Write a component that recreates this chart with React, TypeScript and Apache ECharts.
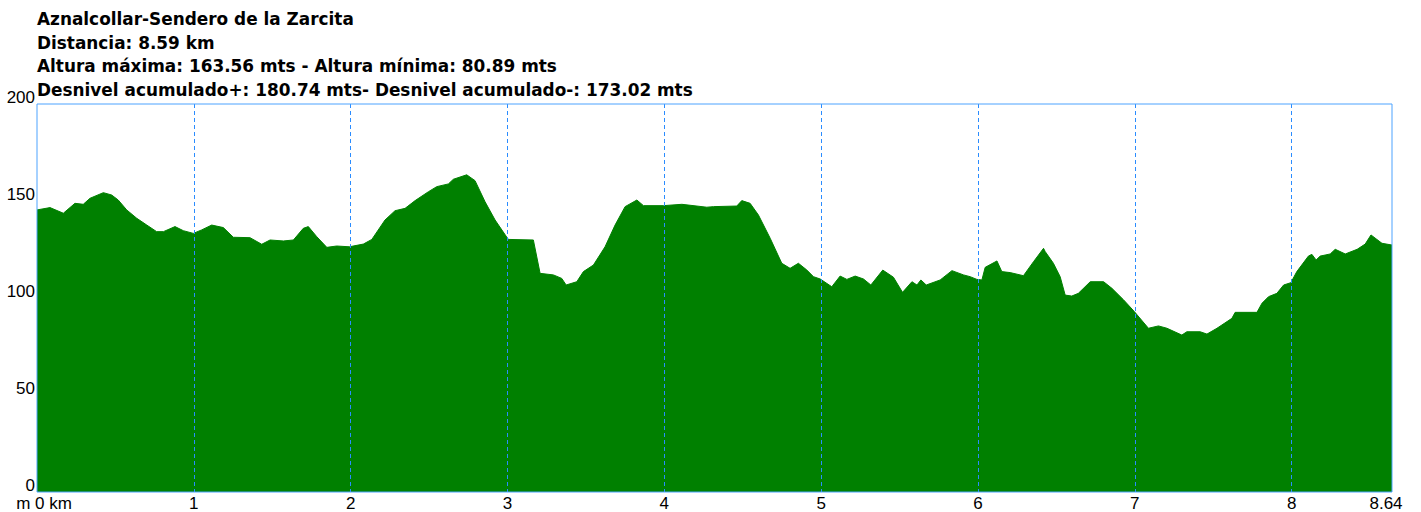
import React, { useEffect, useRef } from "react";
import * as echarts from "echarts";

const titleLines = [
  "Aznalcollar-Sendero de la Zarcita",
  "Distancia: 8.59 km",
  "Altura máxima: 163.56 mts - Altura mínima: 80.89 mts",
  "Desnivel acumulado+: 180.74 mts- Desnivel acumulado-: 173.02 mts",
];

const distKm = [
  0, 0.083, 0.168, 0.242, 0.295, 0.338, 0.423, 0.476, 0.518, 0.572,
  0.636, 0.7, 0.763, 0.806, 0.88, 0.933, 0.997, 1.05, 1.114, 1.188,
  1.252, 1.358, 1.433, 1.486, 1.571, 1.635, 1.698, 1.73, 1.784, 1.848,
  1.911, 1.992, 2.081, 2.135, 2.219, 2.283, 2.347, 2.411, 2.496, 2.549,
  2.623, 2.655, 2.74, 2.793, 2.857, 2.921, 2.996, 3.006, 3.165, 3.208,
  3.293, 3.346, 3.374, 3.442, 3.484, 3.548, 3.622, 3.686, 3.75, 3.825,
  3.867, 3.994, 4.112, 4.271, 4.313, 4.462, 4.494, 4.547, 4.6, 4.675,
  4.749, 4.802, 4.855, 4.909, 4.951, 4.994, 5.068, 5.121, 5.164, 5.217,
  5.27, 5.317, 5.393, 5.461, 5.519, 5.579, 5.611, 5.636, 5.67, 5.759,
  5.834, 5.908, 5.95, 5.993, 6.025, 6.046, 6.121, 6.152, 6.205, 6.29,
  6.354, 6.418, 6.429, 6.481, 6.524, 6.556, 6.598, 6.64, 6.716, 6.801,
  6.854, 6.929, 6.998, 7.087, 7.151, 7.205, 7.3, 7.332, 7.417, 7.46,
  7.524, 7.619, 7.64, 7.779, 7.811, 7.853, 7.906, 7.949, 7.995, 8.033,
  8.107, 8.129, 8.156, 8.182, 8.246, 8.278, 8.342, 8.418, 8.469, 8.506,
  8.576, 8.64,
];

const altM = [
  145.4, 146.6, 143.7, 148.8, 148.3, 151.4, 154.3, 153.1, 150.5, 145.4,
  141.1, 137.6, 134.2, 134.2, 136.8, 134.7, 133.3, 135.1, 137.6, 136.3,
  131.3, 131.1, 127.7, 129.9, 129.4, 129.9, 135.9, 136.8, 131.6, 126.1,
  126.8, 126.4, 127.8, 130.2, 140.2, 145.0, 146.2, 150.2, 154.8, 157.4,
  158.8, 161.2, 163.5, 160.5, 149.6, 140.2, 131.3, 130.2, 129.9, 112.7,
  111.9, 110.1, 106.7, 108.4, 113.6, 117.0, 126.4, 137.6, 147.1, 150.5,
  147.6, 147.6, 148.3, 146.8, 147.1, 147.4, 150.2, 148.8, 142.8, 130.8,
  117.9, 115.3, 117.9, 114.4, 111.0, 109.8, 105.8, 111.3, 109.6, 111.3,
  109.8, 106.7, 114.4, 110.7, 102.9, 108.4, 106.7, 109.3, 106.7, 109.3,
  114.1, 111.9, 111.0, 109.6, 109.3, 115.8, 119.1, 113.6, 113.1, 111.5,
  118.7, 125.6, 123.9, 117.9, 111.0, 101.5, 101.0, 102.4, 108.4, 108.4,
  105.0, 99.0, 92.9, 84.4, 85.6, 84.4, 80.9, 82.6, 82.6, 81.4,
  84.4, 89.5, 92.6, 92.6, 97.3, 100.7, 102.4, 106.7, 107.9, 113.6,
  121.6, 122.5, 119.6, 121.6, 122.7, 125.1, 122.7, 125.1, 127.8, 132.5,
  128.2, 127.3,
];

const xMax = 8.64;
const yMax = 200;
const yStep = 50;

export default function App() {
  const ref = useRef<HTMLDivElement>(null);
  useEffect(() => {
    if (!ref.current) return;
    const chart = echarts.init(ref.current, null, { renderer: "svg" });
    const labelFont = "'Liberation Sans', Arial, sans-serif";
    chart.setOption({
      animation: false,
      backgroundColor: "#ffffff",
      title: {
        text: titleLines.join("\n"),
        left: 37,
        top: 7,
        padding: 0,
        textStyle: {
          fontFamily: "'DejaVu Sans', sans-serif",
          fontWeight: "bold",
          fontSize: 16.9,
          lineHeight: 23.7,
          color: "#000000",
        },
      },
      grid: {
        left: 37,
        top: 104,
        right: 29,
        bottom: 20,
        show: true,
        z: 6,
        backgroundColor: "transparent",
        borderColor: "#4da3ff",
        borderWidth: 1,
      },
      xAxis: {
        type: "value",
        min: 0,
        max: xMax,
        interval: 1,
        z: 5,
        axisLine: { show: false },
        axisTick: { show: false },
        splitLine: {
          show: true,
          showMinLine: false,
          showMaxLine: false,
          lineStyle: { color: "#2a8cff", width: 1, type: [4, 3] },
        },
        axisLabel: {
          show: true,
          showMaxLabel: true,
          showMinLabel: true,
          margin: 3,
          fontFamily: labelFont,
          fontSize: 17,
          color: "#000000",
          formatter: (v: number) => {
            if (v === 0) return "{first|m 0 km}";
            if (Math.abs(v - Math.round(v)) < 1e-6) return String(Math.round(v));
            return "{last|" + v.toFixed(2) + "}";
          },
          rich: {
            first: { fontFamily: labelFont, fontSize: 17, color: "#000", padding: [0, 0, 0, 14] },
            last: { fontFamily: labelFont, fontSize: 17, color: "#000", padding: [0, 12, 0, 0] },
          },
        },
      },
      yAxis: {
        type: "value",
        min: 0,
        max: yMax,
        interval: yStep,
        axisLine: { show: false },
        axisTick: { show: false },
        splitLine: { show: false },
        axisLabel: {
          margin: 2,
          fontFamily: labelFont,
          fontSize: 17,
          color: "#000000",
          verticalAlign: "bottom",
          lineHeight: 14,
        },
      },
      series: [
        {
          type: "line",
          data: distKm.map((d, i) => [d, altM[i]]),
          showSymbol: false,
          symbol: "none",
          z: 2,
          lineStyle: { width: 1, color: "#008000" },
          areaStyle: { color: "#008000", opacity: 1 },
        },
      ],
    });
    return () => chart.dispose();
  }, []);
  return (
    <div
      ref={ref}
      style={{ position: "absolute", left: 0, top: 0, width: 1421, height: 512 }}
    />
  );
}
